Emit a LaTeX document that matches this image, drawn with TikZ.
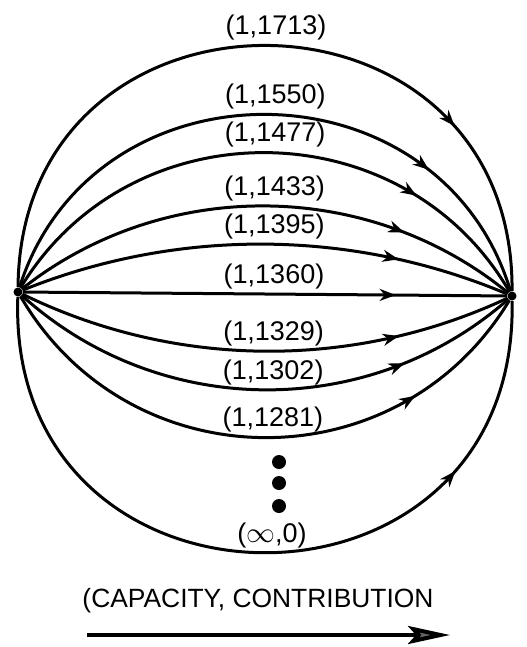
\documentclass[tikz,border=0pt]{standalone}
\usepackage{fontspec}
\setmainfont{Liberation Sans}
\usetikzlibrary{arrows.meta,decorations.markings}

\tikzset{
  vtx/.style={circle,fill,inner sep=0pt,minimum size=4.5pt},
  lbl/.style={midway,above=1.8pt,xshift=4.5pt,inner sep=0pt,font=\fontsize{13.5}{16}\selectfont},
  flow/.style={line width=1.5pt,postaction={decorate},
    decoration={markings,mark=at position 0.77 with {\arrow{Stealth[length=8pt,width=6pt,inset=2.5pt]}}}},
}

\begin{document}
\begin{tikzpicture}[x=0.5pt,y=0.5pt,>=Latex]
\useasboundingbox (0,0) rectangle (526,-647);
\node[vtx] (s) at (18,-292) {};
\node[vtx] (t) at (512,-296) {};
\foreach \b/\l/\c in {90/1.68/1713,72.8/1.27/1550,59.4/1.11/1477,38.8/0.95/1433,22.4/0.885/1395}
  {\draw[flow] (s) to[bend left=\b,looseness=\l] node[lbl] (c\c) {(1,\c)} (t);}
\draw[flow] (s) -- node[lbl] (c1360) {(1,1360)} (t);
\foreach \b/\l/\c in {25.6/0.895/1329,41.7/0.974/1302,59.4/1.128/1281}
  {\draw[flow] (s) to[bend right=\b,looseness=\l] node[lbl] (c\c) {(1,\c)} (t);}
\draw[flow] (s) to[bend right=91.6,looseness=1.75] node[lbl] (cinf) {($\infty$,0)} (t);
\foreach \y in {462,483,506} {\fill (279,-\y) circle (3.5pt);}
\node[font=\fontsize{13.2}{16}\selectfont] (cap) at (258,-601) {(CAPACITY, CONTRIBUTION};
\coordinate (k0) at (87,-635);
\coordinate (k1) at (450,-635);
\draw[line width=2pt,-{Stealth[length=21pt,width=9pt,inset=4pt,fill=black!60]}] (k0) -- (k1);
\end{tikzpicture}
\end{document}
